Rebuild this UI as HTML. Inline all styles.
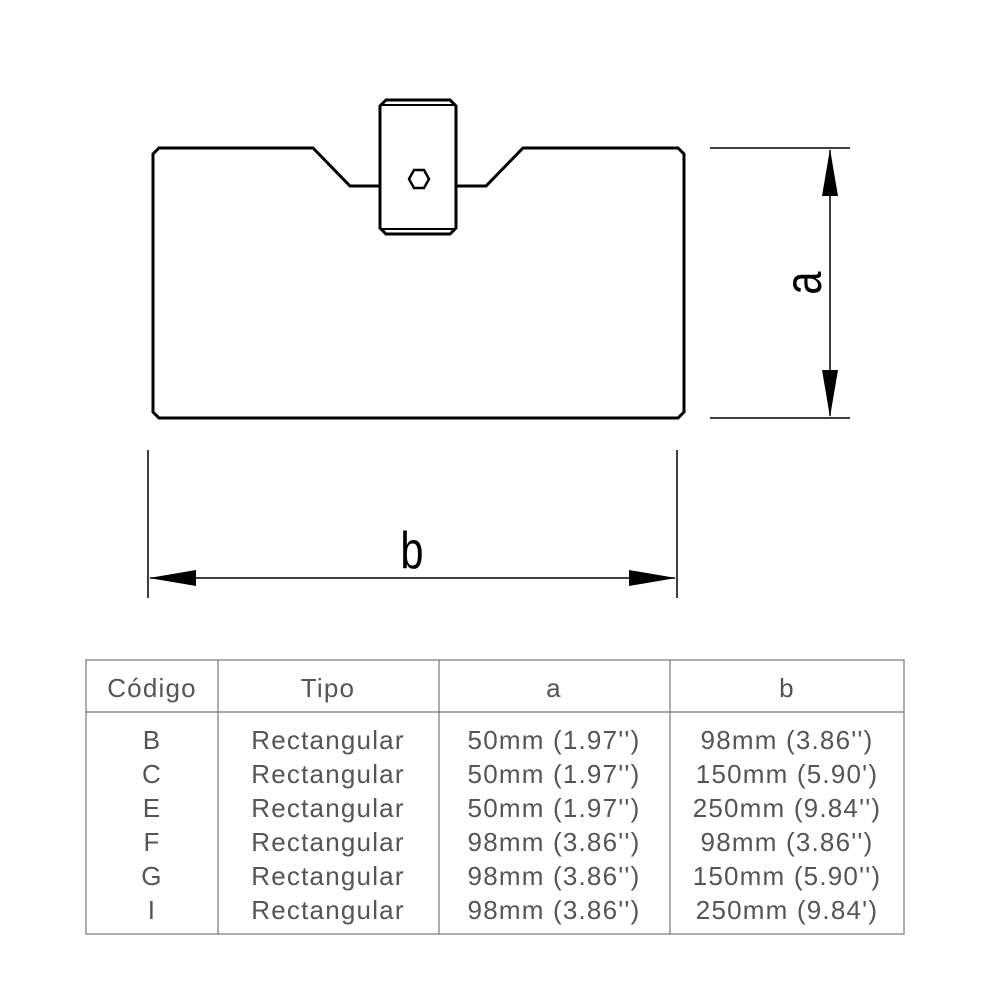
<!DOCTYPE html>
<html><head><meta charset="utf-8"><style>
body{margin:0;background:#fff;width:1000px;height:1000px;overflow:hidden}
svg{position:absolute;left:0;top:0}
</style></head><body>
<svg width="1000" height="1000" viewBox="0 0 1000 1000" font-family="Liberation Sans, sans-serif">
<g fill="none" stroke="#000" stroke-width="3" stroke-linejoin="miter">
<path d="M380,186 L350,186 L313,148 L159,148 L153,154 L153,412 L159,418 L678,418 L684,412 L684,154 L678,148 L523,148 L486,186 L456,186"/>
<path d="M386,100 L450,100 L456,106 L456,228 L450,234 L386,234 L380,228 L380,106 Z"/>
<path d="M382,105 L454,105 M382,229 L454,229" stroke-width="2"/>
<polygon points="414,170 424,170 429,179 424,188 414,188 409,179" stroke-width="2.5"/>
</g>
<g stroke="#000" stroke-width="1.5">
<line x1="710" y1="148" x2="850" y2="148"/><line x1="710" y1="418" x2="850" y2="418"/>
<line x1="830" y1="150" x2="830" y2="416"/>
<line x1="148" y1="450" x2="148" y2="598"/><line x1="677" y1="450" x2="677" y2="598"/>
<line x1="150" y1="578" x2="675" y2="578"/>
</g>
<polygon points="830,149 822,196 838,196" fill="#000"/>
<polygon points="830,417 822,370 838,370" fill="#000"/>
<polygon points="149,578 196,570 196,586" fill="#000"/>
<polygon points="676,578 629,570 629,586" fill="#000"/>
<text x="0" y="0" font-size="52" transform="translate(821,283) rotate(-90) scale(0.8,1)" text-anchor="middle">a</text>
<text x="0" y="0" font-size="52" transform="translate(412,568) scale(0.8,1)" text-anchor="middle">b</text>
<g stroke="#777" stroke-width="1.2" fill="none">
<rect x="86" y="660" width="818" height="274"/>
<line x1="86" y1="712" x2="904" y2="712"/>
<line x1="218" y1="660" x2="218" y2="934"/><line x1="439" y1="660" x2="439" y2="934"/><line x1="670" y1="660" x2="670" y2="934"/>
</g>
<g fill="#555" font-size="26" letter-spacing="1.2" text-anchor="middle">
<text x="152" y="697">Código</text><text x="328" y="697">Tipo</text><text x="554" y="697">a</text><text x="787" y="697">b</text>
<text x="152" y="749">B</text><text x="328" y="749">Rectangular</text><text x="554" y="749">50mm (1.97'')</text><text x="787" y="749">98mm (3.86'')</text>
<text x="152" y="783">C</text><text x="328" y="783">Rectangular</text><text x="554" y="783">50mm (1.97'')</text><text x="787" y="783">150mm (5.90')</text>
<text x="152" y="817">E</text><text x="328" y="817">Rectangular</text><text x="554" y="817">50mm (1.97'')</text><text x="787" y="817">250mm (9.84'')</text>
<text x="152" y="851">F</text><text x="328" y="851">Rectangular</text><text x="554" y="851">98mm (3.86'')</text><text x="787" y="851">98mm (3.86'')</text>
<text x="152" y="885">G</text><text x="328" y="885">Rectangular</text><text x="554" y="885">98mm (3.86'')</text><text x="787" y="885">150mm (5.90'')</text>
<text x="152" y="919">I</text><text x="328" y="919">Rectangular</text><text x="554" y="919">98mm (3.86'')</text><text x="787" y="919">250mm (9.84')</text>
</g>
</svg>
</body></html>
